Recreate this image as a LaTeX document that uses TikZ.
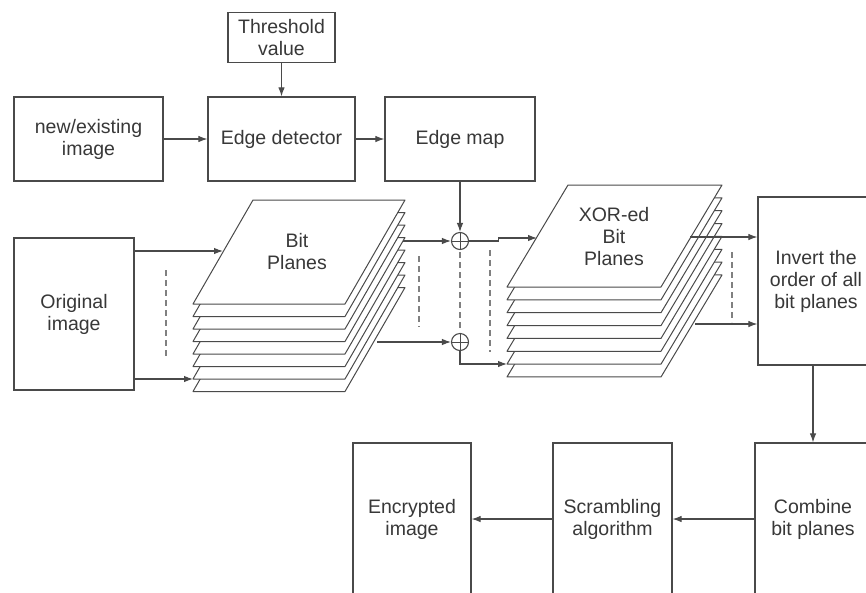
\documentclass[tikz,border=0pt]{standalone}
\usepackage{fontspec}
\setmainfont{Liberation Sans}
\usetikzlibrary{arrows.meta}
\definecolor{ln}{HTML}{4A4A4A}
\definecolor{txt}{HTML}{383838}
\definecolor{dsh}{HTML}{808080}
\begin{document}
\begin{tikzpicture}[x=1pt,y=-1pt,
  every node/.style={font=\fontsize{19.5}{22}\selectfont, text=txt},
  box/.style={draw=ln, line width=1.2pt, fill=white, align=center, inner sep=0pt},
  lbl/.style={align=center, inner sep=0pt},
  conn/.style={draw=ln, line width=1.1pt, -{Latex[length=9pt,width=6.5pt]}},
  dashline/.style={draw=dsh, line width=1.1pt, dash pattern=on 6pt off 4pt},
  plane/.style={draw=ln, line width=1pt, fill=white, line join=round},
  xorc/.style={circle, draw=ln, line width=1.1pt, minimum size=17pt, inner sep=0pt}
]
\useasboundingbox (0,0) rectangle (866,592);
\clip (0,0) rectangle (866,592);

% boxes
\node[box, minimum width=107pt, minimum height=50pt] (thr) at (281.5,37.5) {Threshold\\value};
\node[box, minimum width=149pt, minimum height=84pt] (newimg) at (88.5,139) {new/existing\\image};
\node[box, minimum width=147pt, minimum height=84pt] (edet) at (281.5,139) {Edge detector};
\node[box, minimum width=150pt, minimum height=84pt] (emap) at (460,139) {Edge map};
\node[box, minimum width=120pt, minimum height=152pt] (orig) at (74,314) {Original\\image};
\node[box, minimum width=116pt, minimum height=168pt] (invert) at (816,281) {Invert the\\order of all\\bit planes};
\node[box, minimum width=116pt, minimum height=152pt] (combine) at (813,519) {Combine\\bit planes};
\node[box, minimum width=119pt, minimum height=152pt] (scramble) at (612.5,519) {Scrambling\\algorithm};
\node[box, minimum width=118pt, minimum height=152pt] (encr) at (412,519) {Encrypted\\image};

% bit planes stack
\foreach \k in {7,6,...,0} {
  \draw[plane, shift={(0,{12.5*\k})}] (253,200) -- (405,200) -- (345,304) -- (193,304) -- cycle;
}
\node[lbl] (bplbl) at (297,252) {Bit\\Planes};

% XOR-ed bit planes stack
\foreach \k in {7,6,...,0} {
  \draw[plane, shift={(0,{12.85*\k})}] (568,185) -- (722,185) -- (661,287) -- (507,287) -- cycle;
}
\node[lbl] (xplbl) at (614,237) {XOR-ed\\Bit\\Planes};

% XOR operators
\node[xorc] (x1) at (460,241) {};
\node[xorc] (x2) at (460,342) {};
\draw[ln, line width=1pt] (x1.north) -- (x1.south) (x1.west) -- (x1.east);
\draw[ln, line width=1pt] (x2.north) -- (x2.south) (x2.west) -- (x2.east);

% connectors top row
\draw[conn] (newimg.east) -- (edet.west);
\draw[conn] (edet.east) -- (emap.west);
\draw[conn] (thr.south) -- (edet.north);
\draw[conn] (emap.south) -- (x1.north);

% original image -> bit planes
\coordinate (bpA) at (223,251);
\coordinate (bpB) at (193,379);
\draw[conn] (orig.east |- bpA) -- (bpA);
\draw[conn] (orig.east |- bpB) -- (bpB);
\draw[dashline] (166,270) -- (166,357);

% bit planes -> XOR
\coordinate (bpR1) at (403,241);
\coordinate (bpR2) at (377,342);
\draw[conn] (bpR1) -- (x1.west);
\draw[conn] (bpR2) -- (x2.west);
\draw[dashline] (419,256) -- (419,327);
\draw[dashline] (460,252) -- (460,331);

% XOR -> XOR-ed planes
\coordinate (xpA) at (537,238);
\coordinate (xpB) at (507,364);
\draw[conn] (x1.east) -- +(29,0) |- (xpA);
\draw[conn] (x2.south) |- (xpB);
\draw[dashline] (490,250) -- (490,352);

% XOR-ed planes -> invert
\coordinate (xpR1) at (690,237);
\coordinate (xpR2) at (695,324);
\draw[conn] (xpR1) -- (xpR1 -| invert.west);
\draw[conn] (xpR2) -- (xpR2 -| invert.west);
\draw[dashline] (732,252) -- (732,322);

% bottom row
\draw[conn] (invert.south -| combine.north) -- (combine.north);
\draw[conn] (combine.west) -- (scramble.east);
\draw[conn] (scramble.west) -- (encr.east);
\end{tikzpicture}
\end{document}
